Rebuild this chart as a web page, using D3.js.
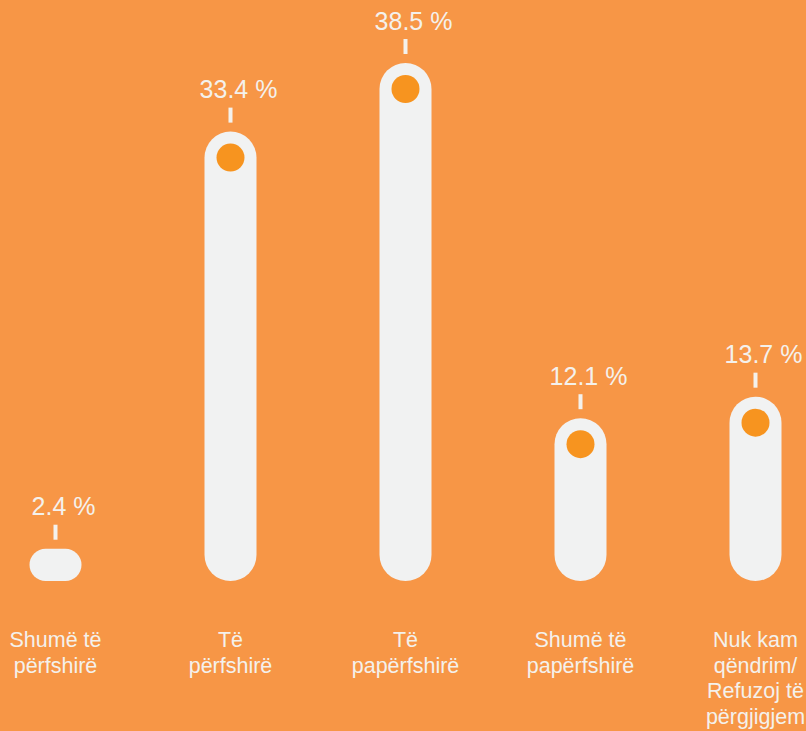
<!DOCTYPE html>
<html>
<head>
<meta charset="utf-8">
<script src="https://cdn.jsdelivr.net/npm/d3@7"></script>
<style>
  html, body { margin: 0; padding: 0; background: #F79646; }
  svg { display: block; }
  text { font-family: "Liberation Sans", Arial, sans-serif; }
</style>
</head>
<body>
<svg id="chart" width="806" height="731"></svg>
<script>
// Survey answers: share of respondents per category (%)
const categories = [
  "Shumë të përfshirë",
  "Të përfshirë",
  "Të papërfshirë",
  "Shumë të papërfshirë",
  "Nuk kam qëndrim/ Refuzoj të përgjigjem"
];
const categoryLines = [
  ["Shumë të", "përfshirë"],
  ["Të", "përfshirë"],
  ["Të", "papërfshirë"],
  ["Shumë të", "papërfshirë"],
  ["Nuk kam", "qëndrim/", "Refuzoj të", "përgjigjem"]
];
const values = [2.4, 33.4, 38.5, 12.1, 13.7];
const valueLabels = ["2.4 %", "33.4 %", "38.5 %", "12.1 %", "13.7 %"];

const W = 806, H = 731;
const barW = 52, r = barW / 2;
const baseY = 581;

const svg = d3.select("#chart");

svg.append("rect").attr("width", W).attr("height", H).attr("fill", "#F79646");

const x = d3.scalePoint().domain(categories).range([55.5, 755.5]);
const y = d3.scaleLinear().domain([0, 38.5]).range([baseY, 63]);

const data = categories.map((c, i) => ({
  cat: c, value: values[i], label: valueLabels[i], lines: categoryLines[i]
}));

const g = svg.append("g").selectAll("g").data(data).join("g")
  .attr("transform", d => `translate(${x(d.cat)},0)`);

// rounded bars (corner radius limited by the bar's own height)
g.append("rect")
  .attr("x", -r)
  .attr("y", d => y(d.value))
  .attr("width", barW)
  .attr("height", d => baseY - y(d.value))
  .attr("rx", d => Math.min(r, (baseY - y(d.value)) / 2))
  .attr("ry", d => Math.min(r, (baseY - y(d.value)) / 2))
  .attr("fill", "#F1F2F2");

// dot inside the rounded top of each tall bar
g.filter(d => baseY - y(d.value) > 2 * r + 10)
  .append("circle")
  .attr("cx", 0)
  .attr("cy", d => y(d.value) + r)
  .attr("r", 14)
  .attr("fill", "#F7941F");

// small tick above each bar
g.append("rect")
  .attr("x", -2)
  .attr("y", d => y(d.value) - 24)
  .attr("width", 4)
  .attr("height", 15)
  .attr("fill", "#F4F1EC");

// value labels
g.append("text")
  .attr("x", 8)
  .attr("y", d => y(d.value) - 33.5)
  .attr("text-anchor", "middle")
  .attr("font-size", 25)
  .attr("fill", "#F4F1EC")
  .text(d => d.label);

// category labels
g.append("text")
  .attr("text-anchor", "middle")
  .attr("font-size", 21.5)
  .attr("fill", "#F4F1EC")
  .selectAll("tspan").data(d => d.lines).join("tspan")
  .attr("x", 0)
  .attr("y", (l, i) => 647 + i * 25.5)
  .text(l => l);
</script>
</body>
</html>
